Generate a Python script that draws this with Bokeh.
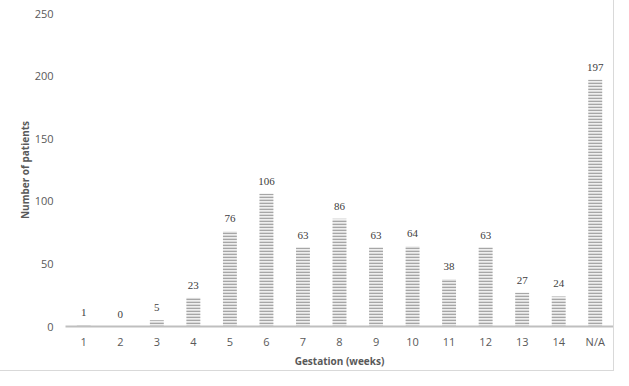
from bokeh.plotting import figure
from bokeh.models import ColumnDataSource, LabelSet, FixedTicker
from bokeh.embed import file_html
from bokeh.resources import INLINE

weeks = ["1", "2", "3", "4", "5", "6", "7", "8", "9", "10", "11", "12", "13", "14", "N/A"]
patients = [1, 0, 5, 23, 76, 106, 63, 86, 63, 64, 38, 63, 27, 24, 197]
y_ticks = [0, 50, 100, 150, 200, 250]

src = ColumnDataSource(dict(x=weeks, y=patients, lbl=[str(v) for v in patients]))

FONT = "Open Sans"
TXT = "#595959"

p = figure(x_range=weeks, y_range=(0, 250), width=613, height=370,
           output_backend="svg", toolbar_location=None,
           min_border_left=65, min_border_right=0, min_border_top=13, min_border_bottom=40)
p.border_fill_color = "white"
p.styles = {"outline": "1px solid #d9d9d9"}

p.vbar(x="x", top="y", width=0.38, source=src, fill_color="#eeeeee", line_color=None,
       hatch_pattern="horizontal_line", hatch_color="#a6a6a6", hatch_scale=3, hatch_weight=1.6)

labels = LabelSet(x="x", y="y", text="lbl", source=src, text_align="center",
                  text_baseline="bottom", y_offset=9, text_font_size="11px",
                  text_color="#404040", text_font=FONT)
p.add_layout(labels)

p.outline_line_color = None
p.xgrid.grid_line_color = None
p.ygrid.grid_line_color = None

p.yaxis.ticker = FixedTicker(ticks=y_ticks)
p.yaxis.axis_line_color = None
p.yaxis.major_tick_line_color = None
p.yaxis.minor_tick_line_color = None
p.yaxis.major_label_standoff = 6
p.yaxis.axis_label = "Number of patients"
p.yaxis.axis_label_standoff = 0

p.xaxis.axis_line_color = "#bfbfbf"
p.xaxis.axis_line_width = 2
p.xaxis.major_tick_line_color = None
p.xaxis.minor_tick_line_color = None
p.xaxis.major_label_standoff = 1
p.xaxis.axis_label = "Gestation (weeks)"
p.xaxis.axis_label_standoff = 2

for ax in (p.xaxis, p.yaxis):
    ax.major_label_text_font = FONT
    ax.major_label_text_font_size = "11px"
    ax.major_label_text_color = TXT
    ax.axis_label_text_font = FONT
    ax.axis_label_text_font_size = "10px"
    ax.axis_label_text_font_style = "bold"
    ax.axis_label_text_color = TXT

open("out.html", "w").write(file_html(p, INLINE))
